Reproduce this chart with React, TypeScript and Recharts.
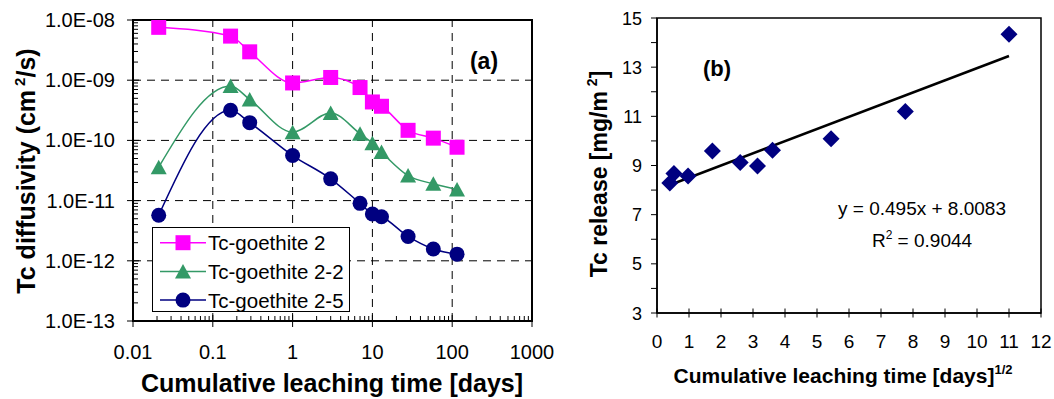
import React from 'react';
import {
  LineChart, Line, XAxis, YAxis, ReferenceLine, ReferenceArea, Legend,
  ScatterChart, Scatter, Customized,
} from 'recharts';

const FONT = 'Arial, "Liberation Sans", Helvetica, sans-serif';

// ---------- Panel (a): Tc diffusivity vs cumulative leaching time ----------
const leachTimes = [0.021, 0.167, 0.29, 1, 3, 7, 10, 13, 28, 58, 115];
const goethite2 = [7.55e-9, 5.4e-9, 2.96e-9, 9.0e-10, 1.11e-9, 7.55e-10, 4.35e-10, 3.69e-10, 1.47e-10, 1.09e-10, 7.7e-11];
const goethite2_2 = [3.59e-11, 8.0e-10, 4.77e-10, 1.37e-10, 2.85e-10, 1.29e-10, 9.0e-11, 6.4e-11, 2.6e-11, 1.9e-11, 1.53e-11];
const goethite2_5 = [5.7e-12, 3.16e-10, 1.97e-10, 5.6e-11, 2.3e-11, 9.0e-12, 6.0e-12, 5.4e-12, 2.54e-12, 1.57e-12, 1.29e-12];
const seriesNames = ['Tc-goethite 2', 'Tc-goethite 2-2', 'Tc-goethite 2-5'];
const seriesKeys = ['g2', 'g22', 'g25'];
const seriesColors = ['#FF00FF', '#339966', '#000080'];

const xMajor = [0.01, 0.1, 1, 10, 100, 1000];
const xMajorLabels = ['0.01', '0.1', '1', '10', '100', '1000'];
const yMajor = [1e-13, 1e-12, 1e-11, 1e-10, 1e-9, 1e-8];
const yMajorLabels = ['1.0E-13', '1.0E-12', '1.0E-11', '1.0E-10', '1.0E-09', '1.0E-08'];

// ---------- Panel (b): Tc release vs sqrt time ----------
const sqrtTime = [0.4, 0.53, 0.97, 1.73, 2.6, 3.14, 3.61, 5.44, 7.76, 11.0];
const tcRelease = [8.29, 8.67, 8.57, 9.59, 9.12, 8.98, 9.62, 10.09, 11.2, 14.34];
const trendSlope = 0.495;
const trendIntercept = 8.0083;
const rSquared = '0.9044';
const bXTicks = [0, 1, 2, 3, 4, 5, 6, 7, 8, 9, 10, 11, 12];
const bYTicks = [3, 4, 5, 6, 7, 8, 9, 10, 11, 12, 13, 14, 15];
const bYLabelled = [3, 5, 7, 9, 11, 13, 15];

const panelAData = leachTimes.map((t, i) => ({ t, g2: goethite2[i], g22: goethite2_2[i], g25: goethite2_5[i] }));
const panelBData = sqrtTime.map((x, i) => ({ x, y: tcRelease[i] }));
const trendX0 = sqrtTime[0];
const trendX1 = sqrtTime[sqrtTime.length - 1];

const withMinors = (majors: number[]) => {
  const out: number[] = [];
  majors.forEach((m, i) => {
    out.push(m);
    if (i < majors.length - 1) for (let k = 2; k <= 9; k++) out.push(m * k);
  });
  return out;
};
const xTicksA = withMinors(xMajor);
const yTicksA = withMinors(yMajor);
const majorIndex = (v: number, majors: number[]) =>
  majors.findIndex((m) => Math.abs(Math.log10(v) - Math.log10(m)) < 1e-6);

// ---------- ticks ----------
const XTickA = (props: any) => {
  const { x, y, payload } = props;
  const idx = majorIndex(payload.value, xMajor);
  if (idx < 0) return <line x1={x} x2={x} y1={y} y2={y - 5} stroke="#000" strokeWidth={1} />;
  return (
    <g>
      <line x1={x} x2={x} y1={y - 6} y2={y + 6} stroke="#000" strokeWidth={1} />
      <text x={x} y={y + 38} textAnchor="middle" fontSize={20} fontFamily={FONT} fill="#000">{xMajorLabels[idx]}</text>
    </g>
  );
};

const YTickA = (props: any) => {
  const { x, y, payload } = props;
  const idx = majorIndex(payload.value, yMajor);
  if (idx < 0) return <line x1={x} x2={x + 5} y1={y} y2={y} stroke="#000" strokeWidth={1} />;
  return (
    <g>
      <line x1={x - 6} x2={x + 6} y1={y} y2={y} stroke="#000" strokeWidth={1} />
      <text x={x - 18} y={y + 7} textAnchor="end" fontSize={20} fontFamily={FONT} fill="#000">{yMajorLabels[idx]}</text>
    </g>
  );
};

const XTickB = (props: any) => {
  const { x, y, payload } = props;
  return (
    <g>
      <line x1={x} x2={x} y1={y - 4.5} y2={y + 4.5} stroke="#000" strokeWidth={1} />
      <text x={x} y={y + 35} textAnchor="middle" fontSize={19} fontFamily={FONT} fill="#000">{String(payload.value)}</text>
    </g>
  );
};

const YTickB = (props: any) => {
  const { x, y, payload } = props;
  const lab = bYLabelled.includes(payload.value);
  return (
    <g>
      <line x1={x - 6} x2={x} y1={y} y2={y} stroke="#000" strokeWidth={1} />
      {lab && (
        <text x={x - 15} y={y + 6.5} textAnchor="end" fontSize={18} fontFamily={FONT} fill="#000">{String(payload.value)}</text>
      )}
    </g>
  );
};

// ---------- markers ----------
const markerFor = (key: string, cx: number, cy: number, k: string) => {
  if (key === 'g2') return <rect key={k} x={cx - 7.5} y={cy - 7.5} width={15} height={15} fill="#FF00FF" />;
  if (key === 'g22')
    return <polygon key={k} points={`${cx},${cy - 7.5} ${cx + 8},${cy + 7} ${cx - 8},${cy + 7}`} fill="#339966" />;
  return <circle key={k} cx={cx} cy={cy} r={7.5} fill="#000080" />;
};

const makeDot = (key: string) => (props: any) => {
  const { cx, cy, index } = props;
  if (cx == null || cy == null) return <g key={`${key}-${index}`} />;
  return markerFor(key, cx, cy, `${key}-${index}`);
};

const Diamond = (props: any) => {
  const { cx, cy } = props;
  return <polygon points={`${cx},${cy - 8.5} ${cx + 8.5},${cy} ${cx},${cy + 8.5} ${cx - 8.5},${cy}`} fill="#000080" />;
};

// ---------- legend ----------
const renderLegend = () => (
  <div style={{ width: 198, height: 85, border: '1px solid #000', background: '#fff', boxSizing: 'border-box' }}>
    <svg width={196} height={83} style={{ display: 'block' }}>
      {seriesKeys.map((k, i) => {
        const cy = 14.7 + i * 28.7;
        return (
          <g key={k}>
            <line x1={7} x2={53} y1={cy} y2={cy} stroke={seriesColors[i]} strokeWidth={1.5} />
            {markerFor(k, 30, cy, `lm-${k}`)}
            <text x={55} y={cy + 7.5} fontSize={20.5} fontFamily={FONT} fill="#000">{seriesNames[i]}</text>
          </g>
        );
      })}
    </svg>
  </div>
);

// ---------- free text ----------
const PanelAText = () => (
  <g fontFamily={FONT} fill="#000">
    <text x={484} y={69} textAnchor="middle" fontSize={23} fontWeight="bold">(a)</text>
    <text x={332} y={392} textAnchor="middle" fontSize={25} fontWeight="bold">Cumulative leaching time [days]</text>
    <text transform="translate(35,171) rotate(-90)" textAnchor="middle" fontSize={25} fontWeight="bold">
      Tc diffusivity (cm<tspan fontSize={15} dx={4} dy={-10}>2</tspan><tspan dy={10}>/s)</tspan>
    </text>
  </g>
);

const PanelBText = () => (
  <g fontFamily={FONT} fill="#000">
    <text x={177} y={76} textAnchor="middle" fontSize={22} fontWeight="bold">(b)</text>
    <text x={382} y={215} textAnchor="middle" fontSize={19}>{`y = ${trendSlope}x + ${trendIntercept}`}</text>
    <text x={382} y={247} textAnchor="middle" fontSize={19}>
      R<tspan fontSize={12} dy={-8}>2</tspan><tspan dy={8}>{` = ${rSquared}`}</tspan>
    </text>
    <text x={303} y={383} textAnchor="middle" fontSize={21} fontWeight="bold">
      Cumulative leaching time [days]<tspan fontSize={13} dy={-9}>1/2</tspan>
    </text>
    <text transform="translate(67,174) rotate(-90)" textAnchor="middle" fontSize={23} fontWeight="bold">
      Tc release [mg/m<tspan fontSize={14} dx={5} dy={-10}>2</tspan><tspan dy={10}>]</tspan>
    </text>
  </g>
);

export default function App() {
  return (
    <div style={{ position: 'absolute', left: 0, top: 0, width: 1054, height: 399, background: '#fff', fontFamily: FONT }}>
      <div style={{ position: 'absolute', left: 0, top: 0 }}>
        <LineChart width={575} height={399} data={panelAData} margin={{ top: 20, right: 43, bottom: 0, left: 0 }}>
          <XAxis
            dataKey="t" type="number" scale="log" domain={[0.01, 1000]} allowDataOverflow
            ticks={xTicksA} interval={0} tickSize={0} tickMargin={0} tickLine={false}
            axisLine={{ stroke: '#000', strokeWidth: 2 }} tick={XTickA} height={78}
          />
          <YAxis
            type="number" scale="log" domain={[1e-13, 1e-8]} allowDataOverflow
            ticks={yTicksA} interval={0} tickSize={0} tickMargin={0} tickLine={false}
            axisLine={{ stroke: '#000', strokeWidth: 2 }} tick={YTickA} width={133}
          />
          {xMajor.slice(1, -1).map((v) => (
            <ReferenceLine key={`vx-${v}`} x={v} stroke="#000" strokeWidth={1} strokeDasharray="8 6" />
          ))}
          {yMajor.slice(1, -1).map((v) => (
            <ReferenceLine key={`hy-${v}`} y={v} stroke="#000" strokeWidth={1} strokeDasharray="8 6" />
          ))}
          <ReferenceArea x1={0.01} x2={1000} y1={1e-13} y2={1e-8} fill="none" stroke="#000" strokeWidth={2} />
          {seriesKeys.map((k, i) => (
            <Line
              key={k} dataKey={k} name={seriesNames[i]} type="monotone" stroke={seriesColors[i]} strokeWidth={1.5}
              dot={makeDot(k)} activeDot={false} isAnimationActive={false}
            />
          ))}
          <Legend
            layout="vertical" align="center" verticalAlign="middle" content={renderLegend}
            wrapperStyle={{ left: 152, top: 227, width: 198, height: 85 }}
          />
          <Customized component={PanelAText} />
        </LineChart>
      </div>
      <div style={{ position: 'absolute', left: 540, top: 0 }}>
        <ScatterChart width={514} height={399} margin={{ top: 18, right: 13, bottom: 0, left: 0 }}>
          <XAxis
            dataKey="x" type="number" domain={[0, 12]} ticks={bXTicks} interval={0}
            tickSize={0} tickMargin={0} tickLine={false} axisLine={{ stroke: '#000', strokeWidth: 1.5 }}
            tick={XTickB} height={86} allowDataOverflow
          />
          <YAxis
            dataKey="y" type="number" domain={[3, 15]} ticks={bYTicks} interval={0}
            tickSize={0} tickMargin={0} tickLine={false} axisLine={{ stroke: '#000', strokeWidth: 1.5 }}
            tick={YTickB} width={117} allowDataOverflow
          />
          <ReferenceArea x1={0} x2={12} y1={3} y2={15} fill="none" stroke="#000" strokeWidth={1.5} />
          <ReferenceLine
            segment={[
              { x: trendX0, y: trendSlope * trendX0 + trendIntercept },
              { x: trendX1, y: trendSlope * trendX1 + trendIntercept },
            ]}
            stroke="#000" strokeWidth={2.5}
          />
          <Scatter data={panelBData} shape={Diamond} isAnimationActive={false} />
          <Customized component={PanelBText} />
        </ScatterChart>
      </div>
    </div>
  );
}
